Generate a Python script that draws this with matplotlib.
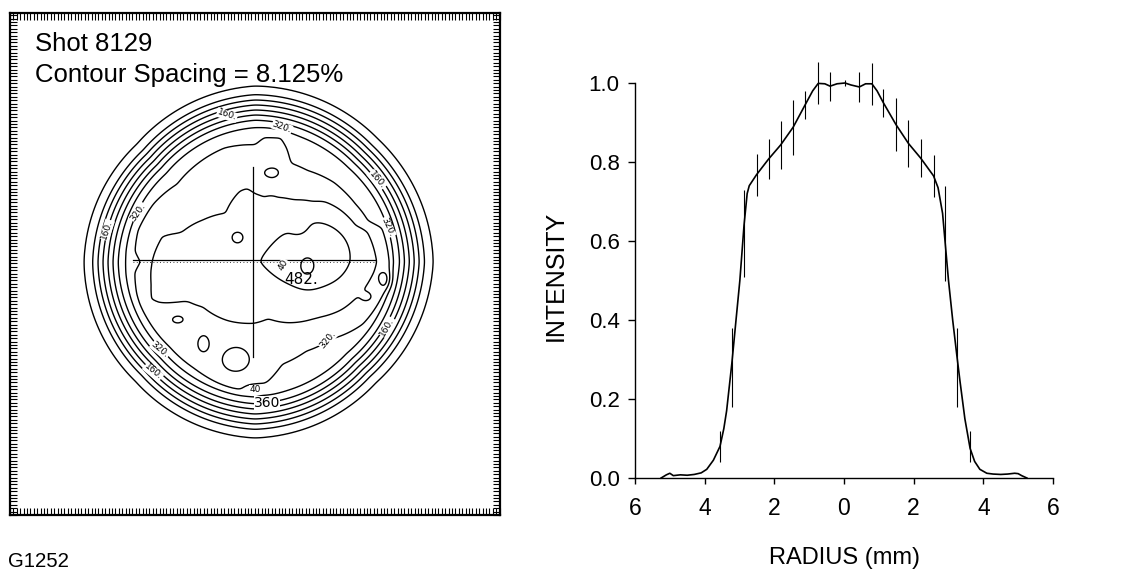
import numpy as np
import matplotlib
matplotlib.use("Agg")
import matplotlib.pyplot as plt

plt.rcParams['font.family'] = ['Liberation Sans', 'DejaVu Sans']

# ---------------- data: right panel (lineout) ----------------
radius_mm = [-5.25, -5.1, -5.0, -4.9, -4.7, -4.5, -4.3, -4.1, -3.94, -3.75, -3.56, -3.45,
             -3.37, -3.22, -3.1, -2.99, -2.87, -2.78, -2.72, -2.51, -2.16, -1.82, -1.46,
             -1.12, -0.90, -0.74, -0.55, -0.40, -0.20, 0.03, 0.20, 0.44, 0.62, 0.80, 0.95,
             1.13, 1.49, 1.85, 2.20, 2.57, 2.70, 2.83, 2.90, 3.0, 3.12, 3.24, 3.33, 3.47,
             3.62, 3.75, 3.90, 4.1, 4.28, 4.5, 4.7, 4.9, 5.0, 5.1, 5.25]
intensity = [0.0, 0.008, 0.012, 0.006, 0.008, 0.007, 0.009, 0.013, 0.022, 0.045, 0.08, 0.125,
             0.17, 0.29, 0.40, 0.50, 0.64, 0.72, 0.74, 0.768, 0.808, 0.843, 0.888,
             0.944, 0.98, 0.999, 0.998, 0.992, 0.998, 1.0, 0.995, 0.99, 0.998, 0.998, 0.98,
             0.95, 0.895, 0.847, 0.81, 0.765, 0.735, 0.67, 0.60, 0.50, 0.40, 0.31, 0.245, 0.15,
             0.075, 0.042, 0.022, 0.012, 0.010, 0.009, 0.010, 0.012, 0.011, 0.006, 0.0]

err_x = [-3.56, -3.22, -2.87, -2.51, -2.16, -1.82, -1.46, -1.12, -0.74, -0.40, 0.03,
         0.44, 0.795, 1.13, 1.49, 1.85, 2.20, 2.57, 2.90, 3.24, 3.62]
err_center = [0.08, 0.28, 0.62, 0.768, 0.808, 0.843, 0.888, 0.944, 0.999, 0.992, 1.0,
              0.99, 0.998, 0.95, 0.895, 0.847, 0.81, 0.765, 0.62, 0.28, 0.08]
err_half = [0.04, 0.10, 0.11, 0.053, 0.05, 0.06, 0.07, 0.036, 0.053, 0.037, 0.008,
            0.037, 0.053, 0.036, 0.068, 0.059, 0.049, 0.053, 0.12, 0.10, 0.04]

x_ticks = [-6, -4, -2, 0, 2, 4, 6]
x_ticklabels = ['6', '4', '2', '0', '2', '4', '6']
y_ticks = [0.0, 0.2, 0.4, 0.6, 0.8, 1.0]

# ---------------- data: left panel (contour map, px about the centre, y up) ----------------
levels = [40, 80, 120, 160, 200, 240, 280, 320, 360, 400, 440, 480]
# outermost (40) contour radius vs angle
shape_ang = [0, 45, 90, 135, 180, 225, 270, 315]
shape_rad = [177, 173, 175, 166, 170, 168, 175, 170]
# inward offsets of band contours 40..320 from the outermost one
band_off = [0, 8, 13, 18, 23, 28, 33, 40]
# 360 contour radius vs angle
ang360 = [0, 15, 20, 30, 45, 60, 70, 74, 78, 86, 90, 105, 120, 135, 150, 165, 175, 180,
          185, 195, 210, 225, 240, 255, 270, 285, 300, 315, 330, 345]
r360 = [134, 130, 112, 108, 108, 103, 104, 118, 128, 126, 118, 119, 115, 111, 118, 122, 121,
        114, 121, 123, 123, 122, 124, 128, 132, 106, 102, 107, 124, 132]
# 400 contour radius vs angle
ang400 = [0, 15, 30, 41, 46, 57, 68, 82, 90, 96, 102, 121, 141, 158, 164, 180, 192, 200,
          204, 210, 221, 245, 268, 283, 300, 320, 333, 343, 350]
r400 = [114, 104, 93, 79, 65, 58, 59, 56, 64, 72, 71, 55, 67, 80, 97, 105, 108, 112,
        104, 79, 69, 64, 58, 52, 64, 75, 88, 96, 104]
centre_value = 425
# local features: x, y, amplitude, sigma_x, sigma_y
bump_x = [63, 44, 52, -18, 17, -78, -52, -20, 0, 130, 112]
bump_y = [8, 34, -6, 25, 90, -58, -83, -100, -128, -18, -35]
bump_a = [52, -15, 32, 40, 30, 30, 40, 45, -20, 45, 30]
bump_sx = [38, 7, 7, 5, 7, 5.5, 5, 12, 7, 4.5, 4]
bump_sy = [36, 7, 9, 5, 4.5, 3.5, 7, 10, 4, 6.5, 3.3]

fig = plt.figure(figsize=(11.25, 5.74), dpi=100)
W, H = 1125.0, 574.0

# ================= left panel =================
axL = fig.add_axes([10 / W, (H - 515) / H, 490 / W, 502 / H])
xs = np.arange(-245, 246, 1.0)
ys = np.arange(-253, 250, 1.0)
X, Y = np.meshgrid(xs, ys)
Rr = np.hypot(X, Y)
TH = np.degrees(np.arctan2(Y, X)) % 360


def ang_interp(angs, rads):
    return np.interp(TH, list(angs) + [360], list(rads) + [rads[0]])


R40 = ang_interp(shape_ang, shape_rad)
radii = [R40 + 30] + [R40 - o for o in band_off] + [ang_interp(ang360, r360),
                                                     ang_interp(ang400, r400), np.zeros_like(R40)]
lv = [0] + levels[:8] + [360, 400, centre_value]
F = np.zeros_like(X)
for k in range(len(lv) - 1):
    Ra, Rb = radii[k], radii[k + 1]
    m = (Rr <= Ra) & (Rr > Rb)
    F[m] = (lv[k] + (lv[k + 1] - lv[k]) * (Ra - Rr) / (Ra - Rb))[m]
F[Rr <= 0.5] = centre_value
# gentle smoothing of the map
g = np.arange(-6, 7)
kern = np.exp(-0.5 * (g / 1.8) ** 2)
kern /= kern.sum()
F = np.apply_along_axis(lambda v: np.convolve(np.pad(v, 6, mode='edge'), kern, 'valid'), 0, F)
F = np.apply_along_axis(lambda v: np.convolve(np.pad(v, 6, mode='edge'), kern, 'valid'), 1, F)
for bx, by, ba, sx, sy in zip(bump_x, bump_y, bump_a, bump_sx, bump_sy):
    F = F + ba * np.exp(-0.5 * ((X - bx) / sx) ** 2 - 0.5 * ((Y - by) / sy) ** 2)

axL.contour(X, Y, F, levels=levels, colors='black', linewidths=1.0)
axL.set_xlim(-245, 245)
axL.set_ylim(-253, 249)
# crosshair
axL.plot([-122, 120], [2, 2], color='black', lw=0.9)
axL.plot([-122, 120], [0, 0], color='black', lw=0.6, ls=(0, (1, 3)))
axL.plot([-2, -2], [-95, 95], color='black', lw=0.9)
for sp in axL.spines.values():
    sp.set_linewidth(1.6)
axL.set_xticks([])
axL.set_yticks([])
axL.set_xticks(np.arange(-245, 246, 3.4), minor=True)
axL.set_yticks(np.arange(-253, 250, 3.4), minor=True)
axL.tick_params(which='minor', direction='in', length=5, width=0.8,
                top=True, bottom=True, left=True, right=True,
                labelbottom=False, labelleft=False)
axL.text(25 - 245, 253 - 42, 'Shot 8129', fontsize=18.5, ha='left', va='baseline')
axL.text(25 - 245, 253 - 73, 'Contour Spacing = 8.125%', fontsize=18.5, ha='left',
         va='baseline')

lab_kw = dict(fontsize=6.5, ha='center', va='center', family='DejaVu Sans',
              bbox=dict(fc='white', ec='none', pad=0.3))
axL.text(227 - 255, 262 - 115, '160.', rotation=-18, **lab_kw)
axL.text(282 - 255, 262 - 127, '320.', rotation=-20, **lab_kw)
axL.text(377 - 255, 262 - 180, '160.', rotation=-50, **lab_kw)
axL.text(388 - 255, 262 - 227, '320.', rotation=-65, **lab_kw)
axL.text(107 - 255, 262 - 230, '160.', rotation=72, **lab_kw)
axL.text(138 - 255, 262 - 212, '320.', rotation=55, **lab_kw)
axL.text(160 - 255, 262 - 350, '320.', rotation=-40, **lab_kw)
axL.text(153 - 255, 262 - 372, '160.', rotation=-40, **lab_kw)
axL.text(328 - 255, 262 - 340, '320.', rotation=50, **lab_kw)
axL.text(387 - 255, 262 - 327, '160.', rotation=60, **lab_kw)
axL.text(283 - 255, 262 - 265, '40', rotation=60, **lab_kw)
axL.text(255 - 255, 262 - 390, '40', rotation=0, **lab_kw)
axL.text(301 - 255, 262 - 280, '482.', fontsize=11, ha='center', va='center',
         family='DejaVu Sans')
axL.text(267 - 255, 262 - 403, '360', fontsize=10, ha='center', va='center',
         family='DejaVu Sans', bbox=dict(fc='white', ec='none', pad=0.2))

fig.text(8 / W, (H - 567) / H, 'G1252', fontsize=14.7, ha='left', va='baseline')

# ================= right panel =================
axR = fig.add_axes([635 / W, (H - 478) / H, 418 / W, 395 / H])
axR.plot(radius_mm, intensity, color='black', lw=1.2, clip_on=False)
axR.vlines(err_x, np.array(err_center) - np.array(err_half),
           np.array(err_center) + np.array(err_half), color='black', lw=0.8, clip_on=False)
axR.set_xlim(-6, 6)
axR.set_ylim(0, 1.0)
axR.spines['top'].set_visible(False)
axR.spines['right'].set_visible(False)
axR.spines['left'].set_linewidth(1.0)
axR.spines['bottom'].set_linewidth(1.0)
axR.set_xticks(x_ticks)
axR.set_xticklabels(x_ticklabels)
axR.set_yticks(y_ticks)
axR.set_yticklabels(['%.1f' % v for v in y_ticks])
axR.tick_params(axis='x', direction='out', length=4, width=1, labelsize=16.5, pad=10)
axR.tick_params(axis='y', direction='out', length=5, width=1, labelsize=16, pad=6)
axR.set_xlabel('RADIUS (mm)', fontsize=17)
axR.xaxis.set_label_coords(0.502, -0.175)
axR.set_ylabel('INTENSITY', fontsize=18)
axR.yaxis.set_label_coords(-0.16, 0.511)

fig.savefig('out.png', dpi=100)
